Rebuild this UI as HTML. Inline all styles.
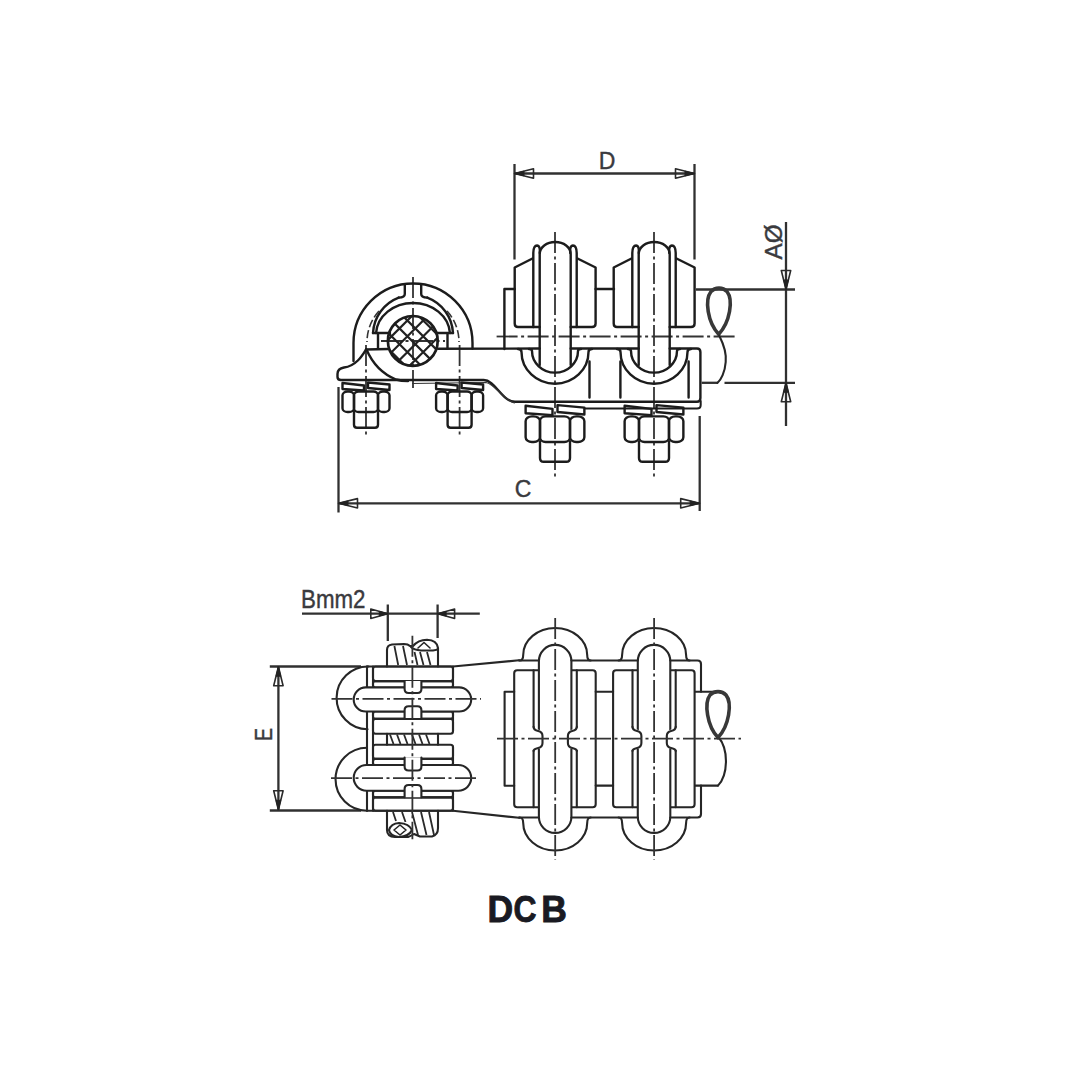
<!DOCTYPE html>
<html><head><meta charset="utf-8"><style>
html,body{margin:0;padding:0;background:#fff;}
svg{display:block;}
.k{fill:none;stroke:#1c1c1c;stroke-width:2.4;stroke-linecap:round;stroke-linejoin:round;}
.k2{fill:none;stroke:#262626;stroke-width:2.1;stroke-linecap:round;stroke-linejoin:round;}
.thin{fill:none;stroke:#333;stroke-width:1.2;}
.dim line{stroke:#303030;stroke-width:2.3;}
.ar{fill:none;stroke:#2a2a2a;stroke-width:1.6;stroke-linejoin:round;}
.arf{fill:#222;stroke:#222;stroke-width:1;}
.cl line{stroke:#333;stroke-width:1.8;stroke-dasharray:21 3.5 3 3.5;}
.hid{fill:none;stroke:#333;stroke-width:1.6;stroke-dasharray:8 3;}
.hatch{fill:none;stroke:#222;stroke-width:2.2;}
.strand{fill:none;stroke:#2a2a2a;stroke-width:1.8;}
.cab{fill:none;stroke:#383838;stroke-width:3.6;}
.lbl{font-family:"Liberation Sans",sans-serif;font-size:23px;fill:#3a3a3e;stroke:#3a3a3e;stroke-width:0.4;}
.big{font-family:"Liberation Sans",sans-serif;font-weight:bold;font-size:37px;fill:#1a1a22;stroke:#1a1a22;stroke-width:0.9;}
</style></head><body>
<svg width="1080" height="1080" viewBox="0 0 1080 1080">
<rect width="1080" height="1080" fill="#fff"/>
<g class="dim">
<line x1="514.5" y1="173.5" x2="694.5" y2="173.5"/>
<line x1="514.5" y1="164" x2="514.5" y2="259.5"/>
<line x1="694.5" y1="164" x2="694.5" y2="259.5"/>
<line x1="786" y1="222" x2="786" y2="426"/>
<line x1="696" y1="289.5" x2="795" y2="289.5"/>
<line x1="701.7" y1="382.8" x2="718" y2="382.8"/>
<line x1="724.5" y1="382.8" x2="795" y2="382.8"/>
<line x1="338.5" y1="503.3" x2="699.7" y2="503.3"/>
<line x1="338.5" y1="387" x2="338.5" y2="512.5"/>
<line x1="699.7" y1="416" x2="699.7" y2="511"/>
<line x1="302" y1="613.7" x2="479.8" y2="613.7"/>
<line x1="387.8" y1="604.5" x2="387.8" y2="641"/>
<line x1="437.6" y1="604.5" x2="437.6" y2="638"/>
<line x1="278.4" y1="666.7" x2="278.4" y2="809.8"/>
<line x1="269.8" y1="666.5" x2="361" y2="666.5"/>
<line x1="269.8" y1="810.5" x2="361" y2="810.5"/>
</g>
<polygon class="ar" points="514.5,173.5 533.5,168.8 533.5,178.2"/><polygon class="arf" points="514.5,173.5 524.0,171.15 524.0,175.85"/>
<polygon class="ar" points="694.5,173.5 675.5,168.8 675.5,178.2"/><polygon class="arf" points="694.5,173.5 685.0,171.15 685.0,175.85"/>
<polygon class="ar" points="786,289.5 781.3,270.5 790.7,270.5"/><polygon class="arf" points="786,289.5 783.65,280.0 788.35,280.0"/>
<polygon class="ar" points="786,382.7 781.3,401.7 790.7,401.7"/><polygon class="arf" points="786,382.7 783.65,392.2 788.35,392.2"/>
<polygon class="ar" points="338.5,503.3 357.5,498.6 357.5,508.0"/><polygon class="arf" points="338.5,503.3 348.0,500.95 348.0,505.65000000000003"/>
<polygon class="ar" points="699.7,503.3 680.7,498.6 680.7,508.0"/><polygon class="arf" points="699.7,503.3 690.2,500.95 690.2,505.65000000000003"/>
<polygon class="ar" points="387.8,613.7 370.8,609.0 370.8,618.4000000000001"/><polygon class="arf" points="387.8,613.7 379.3,611.35 379.3,616.0500000000001"/>
<polygon class="ar" points="437.6,613.7 454.6,609.0 454.6,618.4000000000001"/><polygon class="arf" points="437.6,613.7 446.1,611.35 446.1,616.0500000000001"/>
<polygon class="ar" points="278.4,666.7 273.7,685.7 283.09999999999997,685.7"/><polygon class="arf" points="278.4,666.7 276.04999999999995,676.2 280.75,676.2"/>
<polygon class="ar" points="278.4,809.8 273.7,790.8 283.09999999999997,790.8"/><polygon class="arf" points="278.4,809.8 276.04999999999995,800.3 280.75,800.3"/>
<text class="lbl" x="607" y="168.5" text-anchor="middle">D</text>
<text class="lbl" x="523" y="496.5" text-anchor="middle">C</text>
<text class="lbl" x="774.2" y="242" text-anchor="middle" transform="rotate(-90 774.2 242)" dy="8" textLength="35" lengthAdjust="spacingAndGlyphs">AØ</text>
<text class="lbl" x="264" y="734.5" text-anchor="middle" transform="rotate(-90 264 734.5)" dy="8" textLength="13" lengthAdjust="spacingAndGlyphs">E</text>
<text class="lbl" x="301" y="607.5" style="font-size:25px" textLength="64.5" lengthAdjust="spacingAndGlyphs">Bmm2</text>
<text class="big" transform="translate(487.4,922) scale(0.96,1)">D</text><text class="big" transform="translate(513.6,922) scale(0.86,1)">C</text><text class="big" transform="translate(541.3,922) scale(0.96,1)">B</text>
<g class="cl">
<line x1="496.6" y1="336.5" x2="737" y2="336.5"/>
<line x1="555" y1="232" x2="555" y2="479"/>
<line x1="654" y1="232" x2="654" y2="479"/>
<line x1="366" y1="345" x2="366" y2="436"/>
<line x1="459.6" y1="345" x2="459.6" y2="436"/>
<line x1="413" y1="277" x2="413" y2="388"/>
<line x1="381" y1="341" x2="445" y2="341"/>
</g>
<g class="k">
<path d="M353.5,361 L353.5,343 A59.5,59.5 0 0 1 472.5,343 L472.5,348.5"/>
<path d="M404.8,285 L404.8,294 Q404.8,297.6 398.7,297.6"/>
<path d="M421.2,285 L421.2,294 Q421.2,297.6 427.3,297.6"/>
<path d="M373,333 A40,40 0 0 1 398.7,297.6"/>
<path d="M427.3,297.6 A40,40 0 0 1 453,333"/>
<path d="M376.07,333 A37,32 0 0 1 449.93,333"/>
<path d="M373,333 L390,333 M436,333 L453,333"/>
<path d="M378,333.5 L378,348.5 M447.5,333.5 L447.5,348.5"/>
<path d="M366,349.5 C362,356 356,366 344,367.5 Q337.5,368.5 337.5,374 L337.5,377 Q337.5,380 341,380 L483.7,380 C495,380 502,401.8 515,401.8 L697,401.8 Q700.4,401.8 700.4,398 L700.4,352 Q700.4,348.5 697,348.5 L669.7,348.5"/>
<path d="M366.5,349.5 C371,360 380,373 396,379.5 Q401,381 408,381"/>
<path d="M366,349.5 L388,349"/>
<path d="M438,348.8 L539.7,348.5 M570.7,348.5 L638.7,348.5"/>
</g>
<path class="thin" d="M412,383.5 L486,382.5 C495,384 505,401.5 515,403"/>
<path class="k" style="stroke-width:2" d="M584.7,408.5 L697,408.5 Q700.7,408.5 700.7,405 L700.7,401"/>
<path class="hid" d="M379,311 A46,46 0 0 0 367,342"/>
<path class="hid" d="M447,311 A46,46 0 0 1 459,342"/>
<clipPath id="cc"><circle cx="412.8" cy="340.9" r="24.6"/></clipPath>
<path class="hatch" clip-path="url(#cc)" d="M312.1,304.2 L392.1,384.2 M312.1,384.2 L392.1,304.2 M327.9,304.2 L407.9,384.2 M327.9,384.2 L407.9,304.2 M343.7,304.2 L423.7,384.2 M343.7,384.2 L423.7,304.2 M359.5,304.2 L439.5,384.2 M359.5,384.2 L439.5,304.2 M375.3,304.2 L455.3,384.2 M375.3,384.2 L455.3,304.2 M391.1,304.2 L471.1,384.2 M391.1,384.2 L471.1,304.2 M406.90000000000003,304.2 L486.90000000000003,384.2 M406.90000000000003,384.2 L486.90000000000003,304.2 M422.70000000000005,304.2 L502.70000000000005,384.2 M422.70000000000005,384.2 L502.70000000000005,304.2 M438.5,304.2 L518.5,384.2 M438.5,384.2 L518.5,304.2"/>
<circle class="k" cx="412.8" cy="340.9" r="24.9" fill="none" style="stroke-width:2.7"/>
<g class="k" transform="translate(555,0)">
<path d="M-22.5,258.5 L-40.3,267.5 L-40.3,323.5 Q-40.3,327 -37,327 L-15.3,327"/>
<path d="M22.5,258.5 L40.6,267.5 L40.6,323.5 Q40.6,327 37,327 L15.7,327"/>
<path d="M-21.7,327 L-21.7,253 Q-21.5,245.5 -18,245.5 Q-14.5,246 -15.3,253"/>
<path d="M21.7,327 L21.7,253 Q21.5,245.5 18,245.5 Q14.5,246 15.3,253"/>
<path d="M-15.3,365 L-15.3,254 A15.5,12 0 0 1 15.7,254 L15.7,365"/>
<path d="M-37,349 Q-33.5,349 -33.5,352 A33.5,31.7 0 0 0 33.5,352 Q33.5,349 37,349"/>
<path d="M-26,349 Q-23,349 -23,351 A23,21.6 0 0 0 23,351 Q23,349 26,349"/>
</g>
<g class="k" transform="translate(654,0)">
<path d="M-22.5,258.5 L-40.3,267.5 L-40.3,323.5 Q-40.3,327 -37,327 L-15.3,327"/>
<path d="M22.5,258.5 L40.6,267.5 L40.6,323.5 Q40.6,327 37,327 L15.7,327"/>
<path d="M-21.7,327 L-21.7,253 Q-21.5,245.5 -18,245.5 Q-14.5,246 -15.3,253"/>
<path d="M21.7,327 L21.7,253 Q21.5,245.5 18,245.5 Q14.5,246 15.3,253"/>
<path d="M-15.3,365 L-15.3,254 A15.5,12 0 0 1 15.7,254 L15.7,365"/>
<path d="M-37,349 Q-33.5,349 -33.5,352 A33.5,31.7 0 0 0 33.5,352 Q33.5,349 37,349"/>
<path d="M-26,349 Q-23,349 -23,351 A23,21.6 0 0 0 23,351 Q23,349 26,349"/>
</g>
<g class="k">
<path d="M504.4,349 L504.4,289 L514.7,289 M595.6,289 L614,289"/>
<path d="M589.5,361.5 L589.5,397.5 M620.4,361.5 L620.4,397.5 M688.6,361.5 L688.6,397.5"/>
</g>
<g class="k"><path d="M342.5,383.0 L364.0,385.5 L364.0,390.5 L342.5,389.0 Z"/><path d="M368.0,382.5 L389.5,384.5 L389.5,390.0 L368.0,388.0 Z"/><rect x="342.5" y="391.5" width="11.5" height="20.5" rx="5.0" ry="3.8"/><rect x="354.0" y="391.5" width="24.0" height="20.5" rx="4.5" ry="3.8"/><rect x="378.0" y="391.5" width="11.5" height="20.5" rx="5.0" ry="3.8"/><path d="M354.0,412.0 L354.0,424.8 Q354.0,427.8 357.0,427.8 L375.0,427.8 Q378.0,427.8 378.0,424.8 L378.0,412.0"/></g>
<g class="k"><path d="M436.1,383.0 L457.6,385.5 L457.6,390.5 L436.1,389.0 Z"/><path d="M461.6,382.5 L483.1,384.5 L483.1,390.0 L461.6,388.0 Z"/><rect x="436.1" y="391.5" width="11.5" height="20.5" rx="5.0" ry="3.8"/><rect x="447.6" y="391.5" width="24.0" height="20.5" rx="4.5" ry="3.8"/><rect x="471.6" y="391.5" width="11.5" height="20.5" rx="5.0" ry="3.8"/><path d="M447.6,412.0 L447.6,424.8 Q447.6,427.8 450.6,427.8 L468.6,427.8 Q471.6,427.8 471.6,424.8 L471.6,412.0"/></g>
<g class="k"><path d="M525.625,405.75 L552.5,408.875 L552.5,415.125 L525.625,413.25 Z"/><path d="M557.5,405.125 L584.375,407.625 L584.375,414.5 L557.5,412.0 Z"/><rect x="525.625" y="416.375" width="14.375" height="25.625" rx="6.25" ry="4.75"/><rect x="540.0" y="416.375" width="30.0" height="25.625" rx="5.625" ry="4.75"/><rect x="570.0" y="416.375" width="14.375" height="25.625" rx="6.25" ry="4.75"/><path d="M540.0,442.0 L540.0,458.0 Q540.0,461.75 543.75,461.75 L566.25,461.75 Q570.0,461.75 570.0,458.0 L570.0,442.0"/></g>
<g class="k"><path d="M624.625,405.75 L651.5,408.875 L651.5,415.125 L624.625,413.25 Z"/><path d="M656.5,405.125 L683.375,407.625 L683.375,414.5 L656.5,412.0 Z"/><rect x="624.625" y="416.375" width="14.375" height="25.625" rx="6.25" ry="4.75"/><rect x="639.0" y="416.375" width="30.0" height="25.625" rx="5.625" ry="4.75"/><rect x="669.0" y="416.375" width="14.375" height="25.625" rx="6.25" ry="4.75"/><path d="M639.0,442.0 L639.0,458.0 Q639.0,461.75 642.75,461.75 L665.25,461.75 Q669.0,461.75 669.0,458.0 L669.0,442.0"/></g>
<path class="cab" d="M718.7,334.3 C707.5,322 704.5,300 711,291.5 C715,287 723,287 727,291.5 C733.5,300 730,322 718.7,334.3 Z"/>
<path class="k2" d="M719.3,335.7 C724,345 726.5,355 725.7,362 C725,372 721,380 717.4,383"/>
<g class="k2">
<path d="M367,666.5 L453,666.5 L453,731 M453,746.5 L453,810.7 L367,810.7"/>
<path d="M368.5,666.5 A1,1 0 0 0 367.5,729.3"/>
<path d="M367,747.8 A1,1 0 0 0 367,810.7"/>
<path d="M367,666.5 L367,810.7 M373,666.5 L373,810.7"/>
<rect x="373" y="666.5" width="80" height="14.600000000000023" rx="2.5"/>
<rect x="373" y="681.1" width="80" height="6.699999999999932" rx="2.5"/>
<rect x="373" y="711.5" width="80" height="7.399999999999977" rx="2.5"/>
<rect x="373" y="718.9" width="80" height="14.800000000000068" rx="2.5"/>
<rect x="373" y="744.8" width="80" height="14.100000000000023" rx="2.5"/>
<rect x="373" y="758.9" width="80" height="6.7000000000000455" rx="2.5"/>
<rect x="373" y="790.7" width="80" height="6.699999999999932" rx="2.5"/>
<rect x="373" y="797.4" width="80" height="13.300000000000068" rx="2.5"/>
<rect x="353.7" y="687.4" width="117.5" height="24.100000000000023" rx="12.050000000000011" fill="#fff"/>
<rect x="353.7" y="765" width="117.5" height="25.700000000000045" rx="12.850000000000023" fill="#fff"/>
<path fill="#fff" d="M404.6,681 L404.6,689 Q404.6,693 408.6,693 L417.4,693 Q421.4,693 421.4,689 L421.4,681"/>
<path fill="#fff" d="M404.6,757.5 L404.6,766.5 Q404.6,770.5 408.6,770.5 L417.4,770.5 Q421.4,770.5 421.4,766.5 L421.4,757.5"/>
<path fill="#fff" d="M404.6,718 L404.6,710.3 Q404.6,706.3 408.6,706.3 L417.4,706.3 Q421.4,706.3 421.4,710.3 L421.4,718"/>
<path fill="#fff" d="M404.6,797.2 L404.6,789 Q404.6,785 408.6,785 L417.4,785 Q421.4,785 421.4,789 L421.4,797.2"/>
<path d="M387,666.5 L387,650 Q387,645 392,644.5 L404,644 Q408,644 410,646 L413,646 Q418,640 427,639.7 Q437,640 438,648 L438,666.5"/>
<path d="M411,647 Q414,650 421,650.5 L433,650.5 Q437,650 438,649"/>
<path style="stroke-width:1.6" d="M418,648 L424,642.5 L430,648"/>
<path d="M387,810.7 L387,830 Q387,836.7 395,837 L408,837 Q411,836 414,834 L420,836.5 L432,836.5 Q438,835 438,828 L438,810.7"/>
<path d="M389,830 Q391,823.5 399,823 Q409,823.5 412,830 Q409,836.5 399,837 Q390,836.5 389,830 Z"/>
<path style="stroke-width:1.6" d="M394,830 L400,825 L406,830 L400,835 Z"/>
<path d="M387,733.7 L387,744.8 M438,733.7 L438,744.8"/>
<path d="M453,666.5 L519,660.3 M453,810.7 L519,817.8"/>
</g>
<path class="strand" d="M394.4,646 L398.2,665 M403,646 L407,665 M414.5,652 L417.5,665 M420,652 L423.5,665 M427,652 L430.5,665 M393,812 L396,821 M402,812 L405.5,822 M412,812 L418,835 M421,812 L426.5,835 M429,812 L434,835 M390,734.5 L393.5,744 M397,734.5 L400.5,744 M404,734.5 L407.5,744 M412,734.5 L415.5,744 M419,734.5 L422.5,744 M426,734.5 L429.5,744"/>
<g class="k2" transform="translate(555.2,0)">
<path d="M-35.5,660.5 Q-32,660.5 -32,655 A32,27 0 0 1 32,655 Q32,660.5 35.5,660.5"/>
<path d="M-35.5,817.5 Q-32,817.5 -32,823 A32,27.5 0 0 0 32,823 Q32,817.5 35.5,817.5"/>
<rect x="-41" y="670.2" width="81.5" height="137" rx="3"/>
<path d="M-21.6,670.2 L-21.6,807.2 M21.6,670.2 L21.6,807.2"/>
<rect x="-16.3" y="644.9" width="32.5" height="188" rx="16.2" fill="#fff"/>
<path fill="#fff" stroke="none" d="M-23.2,727.5 L-12.7,731 L-12.7,748 L-23.2,750 Z M23.2,727.5 L12.7,731 L12.7,748 L23.2,750 Z"/>
<path d="M-21.6,726.7 Q-21.6,730 -17,731 Q-12.7,732 -12.7,736 L-12.7,743 Q-12.7,747 -17,748 Q-21.6,749 -21.6,751"/>
<path d="M21.6,726.7 Q21.6,730 17,731 Q12.7,732 12.7,736 L12.7,743 Q12.7,747 17,748 Q21.6,749 21.6,751"/>
</g>
<g class="k2" transform="translate(654.1,0)">
<path d="M-35.5,660.5 Q-32,660.5 -32,655 A32,27 0 0 1 32,655 Q32,660.5 35.5,660.5"/>
<path d="M-35.5,817.5 Q-32,817.5 -32,823 A32,27.5 0 0 0 32,823 Q32,817.5 35.5,817.5"/>
<rect x="-41" y="670.2" width="81.5" height="137" rx="3"/>
<path d="M-21.6,670.2 L-21.6,807.2 M21.6,670.2 L21.6,807.2"/>
<rect x="-16.3" y="644.9" width="32.5" height="188" rx="16.2" fill="#fff"/>
<path fill="#fff" stroke="none" d="M-23.2,727.5 L-12.7,731 L-12.7,748 L-23.2,750 Z M23.2,727.5 L12.7,731 L12.7,748 L23.2,750 Z"/>
<path d="M-21.6,726.7 Q-21.6,730 -17,731 Q-12.7,732 -12.7,736 L-12.7,743 Q-12.7,747 -17,748 Q-21.6,749 -21.6,751"/>
<path d="M21.6,726.7 Q21.6,730 17,731 Q12.7,732 12.7,736 L12.7,743 Q12.7,747 17,748 Q21.6,749 21.6,751"/>
</g>
<g class="k2">
<path d="M519,660.5 L538.9,660.5 M571.4,660.5 L637.8,660.5 M670.3,660.5 L697.5,660.5 Q701,660.5 701,664 L701,691.8"/>
<path d="M519,817.5 L538.9,817.5 M571.4,817.5 L637.8,817.5 M670.3,817.5 L697.5,817.5 Q701,817.5 701,814 L701,785.6"/>
<path d="M514.2,691.8 L504.6,691.8 L504.6,785.8 L514.2,785.8"/>
<path d="M595.7,691.8 L613.1,691.8 M595.7,785.6 L613.1,785.6"/>
<path d="M695,691.8 L718,691.8 M695,785.6 L718,785.6"/>
<path d="M718.5,737 C729,750 728,775 718,785.6"/>
</g>
<path class="cab" d="M718,737.5 C707,726 704,703 710,695 C714,690.5 722,690.5 726,695 C732.5,703 729,726 718,737.5 Z"/>
<g class="cl">
<line x1="331.5" y1="698.9" x2="481" y2="698.9"/>
<line x1="331" y1="778.1" x2="476" y2="778.1"/>
<line x1="412.4" y1="635.7" x2="412.4" y2="839.3"/>
<line x1="497" y1="738.7" x2="741" y2="738.7"/>
<line x1="555.2" y1="618" x2="555.2" y2="860"/>
<line x1="654.1" y1="618" x2="654.1" y2="860"/>
</g>
</svg>
</body></html>
